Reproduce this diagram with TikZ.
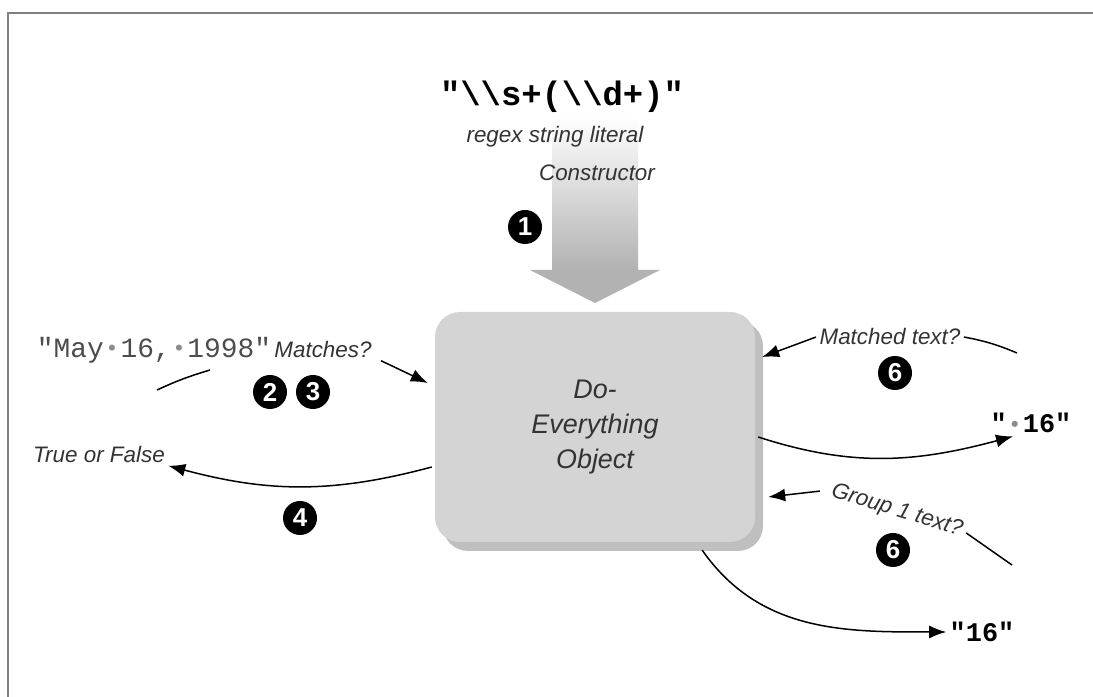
\documentclass[tikz,border=0pt]{standalone}
\usepackage{fontspec}
\setmainfont{Liberation Sans}
\newfontfamily\codefont{Liberation Mono}
\usetikzlibrary{arrows.meta, shadows, positioning}

% visible space as a small gray dot, one character wide
\newcommand{\visdot}{\makebox[0.6em]{\textcolor{black!45}{\raisebox{0.05em}{\scalebox{0.8}{•}}}}}

\tikzset{
  note/.style={font=\fontsize{22.5}{26}\selectfont\itshape, text=black!80},
  code/.style={font=\codefont\bfseries\fontsize{27}{30}\selectfont},
  badge/.style={circle, fill=black, text=white, inner sep=0pt, minimum size=34bp,
    font=\bfseries\fontsize{26}{26}\selectfont},
  objbox/.style={rounded corners=25bp, fill=black!17, minimum width=320bp, minimum height=230bp,
    align=center, text=black!80, font=\fontsize{27}{35}\selectfont\itshape,
    drop shadow={shadow xshift=8bp, shadow yshift=-9bp, fill=black!50}},
  arr/.style={-{Latex[length=17bp, width=13bp]}, line width=1.5bp},
  link/.style={line width=1.5bp}
}

\begin{document}
\begin{tikzpicture}[x=1bp, y=1bp]
    \useasboundingbox (0,0) rectangle (1093,697);
    % Frame
    \draw[black!50, line width=2bp] (1093,684) -- (8,684) -- (8,0);

    % Constructor arrow
    \shade[top color=white, bottom color=black!30] (552,580) rectangle (638,427);
    \fill[black!30] (530,427) -- (660,427) -- (595,394) -- cycle;

    \node[code, font=\codefont\bfseries\fontsize{34}{36}\selectfont] (regex) at (562,600)
      {"\textbackslash\textbackslash s+(\textbackslash\textbackslash d+)"};
    \node[note] (lit) at (555,560) {regex string literal};
    \node[note] (ctor) at (597,524) {Constructor};
    \node[badge] (b1) at (525,470) {1};

    % The object
    \node[objbox] (obj) at (595,270) {Do-\\Everything\\Object};

    % Left side
    \node[code, font=\codefont\fontsize{28}{30}\selectfont, text=black!70] (date) at (154,347)
      {"May\visdot16,\visdot1998"};
    \node[note] (match) at (323,348) {Matches?};
    \node[badge] (b2) at (270,305) {2};
    \node[badge] (b3) at (313,305) {3};
    \coordinate (d0) at (157,307);
    \coordinate (d1) at (210,327);
    \draw[link] (d0) to[bend left=4] (d1);
    \draw[arr] ([xshift=6bp]match.south east) -- ([shift={(-7bp,44bp)}]obj.west);

    \node[note] (tf) at (99,243) {True or False};
    \node[badge] (b4) at (300,179) {4};
    \draw[arr] ([shift={(-3bp,-40bp)}]obj.west) to[out=195, in=-15] (tf.south east);

    % Right side
    \node[note] (mt) at (890,360) {Matched text?};
    \node[badge] (b6) at (895,324) {6};
    \coordinate (m0) at (1017,344);
    \draw[link] (mt.east) to[bend left=6] (m0);
    \draw[arr] (mt.west) -- ([shift={(7bp,70bp)}]obj.east);

    \node[code] (sp16) at (1031,274) {"\visdot16"};
    \draw[arr] ([shift={(3bp,-10bp)}]obj.east) to[out=-18, in=195] ([xshift=-18bp]sp16.south);

    \node[note, rotate=-17, inner sep=0pt] (g1) at (897,186) {Group 1 text?};
    \node[badge] (b6b) at (893,147) {6};
    \coordinate (g0) at (1012,132);
    \draw[link] ([shift={(4bp,-2bp)}]g1.east) -- (g0);
    \draw[arr] ([xshift=-12bp]g1.west) -- ([shift={(13bp,-70bp)}]obj.east);

    \node[code] (n16) at (982,65) {"16"};
    \draw[arr] ([shift={(-53bp,-8bp)}]obj.south east) to[out=-55, in=180] (n16.west);
\end{tikzpicture}
\end{document}
